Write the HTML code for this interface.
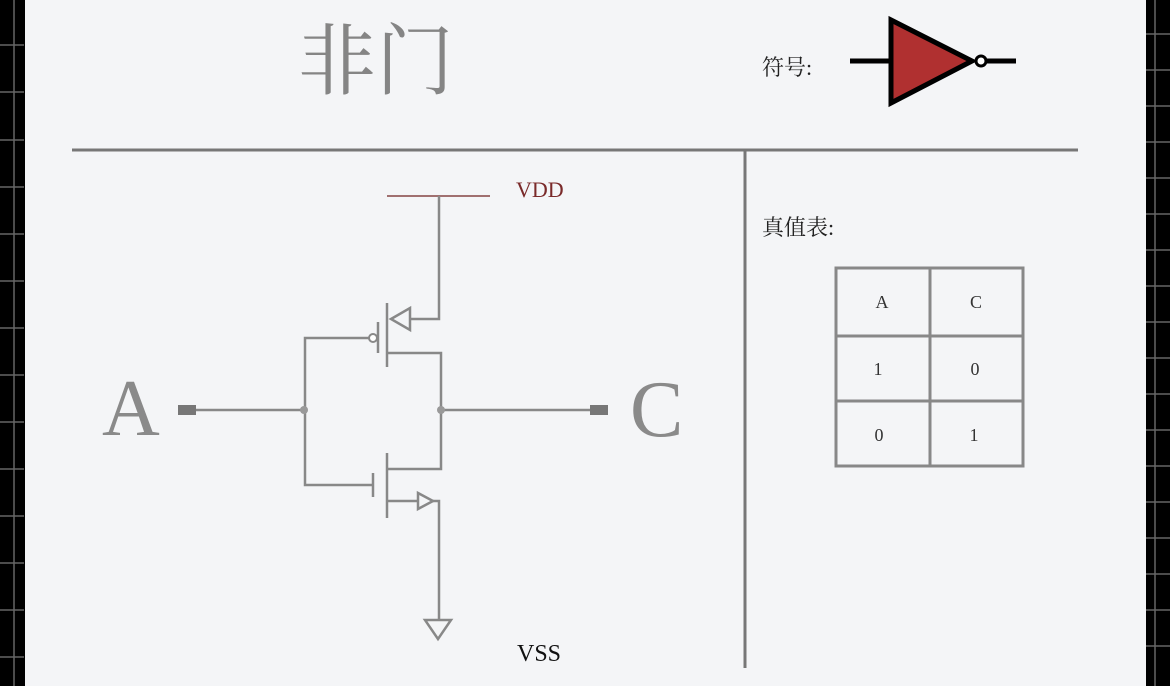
<!DOCTYPE html>
<html><head><meta charset="utf-8"><style>
html,body{margin:0;padding:0;background:#000;}
svg{display:block;}
</style></head><body>
<svg width="1170" height="686" viewBox="0 0 1170 686" xmlns="http://www.w3.org/2000/svg" font-family="'Liberation Serif','Noto Serif CJK SC',serif">
<rect x="0" y="0" width="1170" height="686" fill="#000"/>
<!-- left grid -->
<g stroke="#666" stroke-width="1.5">
<line x1="14" y1="0" x2="14" y2="686"/>
<line x1="0" y1="45" x2="24" y2="45"/><line x1="0" y1="92" x2="24" y2="92"/><line x1="0" y1="140" x2="24" y2="140"/>
<line x1="0" y1="187" x2="24" y2="187"/><line x1="0" y1="234" x2="24" y2="234"/><line x1="0" y1="281" x2="24" y2="281"/>
<line x1="0" y1="328" x2="24" y2="328"/><line x1="0" y1="375" x2="24" y2="375"/><line x1="0" y1="422" x2="24" y2="422"/>
<line x1="0" y1="469" x2="24" y2="469"/><line x1="0" y1="516" x2="24" y2="516"/><line x1="0" y1="563" x2="24" y2="563"/>
<line x1="0" y1="610" x2="24" y2="610"/><line x1="0" y1="657" x2="24" y2="657"/>
<line x1="1155" y1="0" x2="1155" y2="686"/>
<line x1="1146" y1="34" x2="1170" y2="34"/><line x1="1146" y1="70" x2="1170" y2="70"/><line x1="1146" y1="106" x2="1170" y2="106"/>
<line x1="1146" y1="142" x2="1170" y2="142"/><line x1="1146" y1="178" x2="1170" y2="178"/><line x1="1146" y1="214" x2="1170" y2="214"/>
<line x1="1146" y1="250" x2="1170" y2="250"/><line x1="1146" y1="286" x2="1170" y2="286"/><line x1="1146" y1="322" x2="1170" y2="322"/>
<line x1="1146" y1="358" x2="1170" y2="358"/><line x1="1146" y1="394" x2="1170" y2="394"/><line x1="1146" y1="430" x2="1170" y2="430"/>
<line x1="1146" y1="466" x2="1170" y2="466"/><line x1="1146" y1="502" x2="1170" y2="502"/><line x1="1146" y1="538" x2="1170" y2="538"/>
<line x1="1146" y1="574" x2="1170" y2="574"/><line x1="1146" y1="610" x2="1170" y2="610"/><line x1="1146" y1="646" x2="1170" y2="646"/>
</g>
<rect x="25" y="0" width="1121" height="686" fill="#f4f5f7"/>

<text x="298" y="88" font-size="78" fill="#858585">非门</text>
<text x="762" y="75" font-size="22" fill="#222">符号:</text>
<line x1="850" y1="61" x2="892" y2="61" stroke="#000" stroke-width="5"/>
<polygon points="891,20 891,103 972,61" fill="#b03030" stroke="#000" stroke-width="5" stroke-linejoin="miter"/>
<circle cx="981" cy="61" r="5" fill="#fff" stroke="#000" stroke-width="3"/>
<line x1="986" y1="61" x2="1016" y2="61" stroke="#000" stroke-width="5"/>

<line x1="72" y1="150" x2="1078" y2="150" stroke="#777" stroke-width="3"/>
<line x1="745" y1="150" x2="745" y2="668" stroke="#777" stroke-width="3"/>

<line x1="387" y1="196" x2="490" y2="196" stroke="#a07070" stroke-width="2"/>
<text x="516" y="197" font-size="22" fill="#7a2a2a">VDD</text>

<g stroke="#888" stroke-width="2.5" fill="none">
<polyline points="439,196 439,319 410,319"/>
<polygon points="391,319 410,308 410,330" fill="#f4f5f7"/>
<line x1="387" y1="303" x2="387" y2="367"/>
<line x1="378" y1="322" x2="378" y2="353"/>
<circle cx="373" cy="338" r="4" fill="#fff" stroke-width="2"/>
<polyline points="369,338 305,338 305,485 373,485"/>
<polyline points="387,353 441,353 441,469 387,469"/>
<line x1="373" y1="473" x2="373" y2="497"/>
<line x1="387" y1="453" x2="387" y2="518"/>
<line x1="387" y1="501" x2="418" y2="501"/>
<polygon points="418,493 418,509 433,501" fill="#f4f5f7"/>
<polyline points="433,501 439,501 439,620"/>
<polygon points="425,620 451,620 438,639" fill="#f4f5f7"/>
<line x1="193" y1="410" x2="305" y2="410"/>
<line x1="441" y1="410" x2="592" y2="410"/>
</g>
<circle cx="304" cy="410" r="4" fill="#999"/>
<circle cx="441" cy="410" r="4" fill="#999"/>
<rect x="178" y="405" width="18" height="10" fill="#777"/>
<rect x="590" y="405" width="18" height="10" fill="#777"/>
<text x="102" y="435" font-size="80" fill="#8a8a8a">A</text>
<text x="630" y="436" font-size="80" fill="#8a8a8a">C</text>
<text x="517" y="661" font-size="24" fill="#111">VSS</text>

<text x="762" y="235" font-size="22" fill="#222">真值表:</text>
<g stroke="#888" stroke-width="3" fill="none">
<rect x="836" y="268" width="187" height="198"/>
<line x1="930" y1="268" x2="930" y2="466"/>
<line x1="836" y1="336" x2="1023" y2="336"/>
<line x1="836" y1="401" x2="1023" y2="401"/>
</g>
<g font-size="18" fill="#333" text-anchor="middle">
<text x="882" y="308">A</text><text x="976" y="308">C</text>
<text x="878" y="375">1</text><text x="975" y="375">0</text>
<text x="879" y="441">0</text><text x="974" y="441">1</text>
</g>
</svg>
</body></html>
